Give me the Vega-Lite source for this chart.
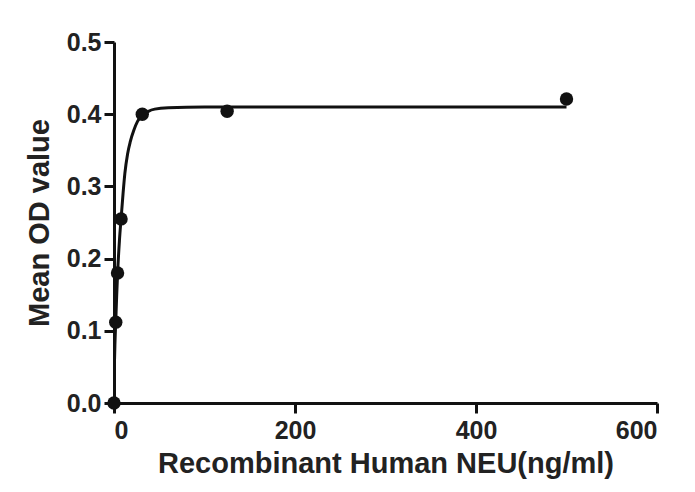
{
  "$schema": "https://vega.github.io/schema/vega-lite/v6.json",
  "autosize": {"type": "none"},
  "width": 543,
  "height": 361,
  "padding": {"left": 114, "top": 42, "right": 38, "bottom": 89},
  "background": "white",
  "config": {
    "view": {"stroke": null},
    "font": "Liberation Sans",
    "axis": {
      "grid": false,
      "domainColor": "#111",
      "domainWidth": 3,
      "tickColor": "#111",
      "tickWidth": 3,
      "tickSize": 10,
      "labelFont": "Liberation Sans",
      "labelFontSize": 25,
      "labelFontWeight": "bold",
      "labelColor": "#222",
      "titleFont": "Liberation Sans",
      "titleFontSize": 29,
      "titleFontWeight": "bold",
      "titleColor": "#222"
    }
  },
  "datasets": {
    "curve": [
      {"x": 0.6, "y": 0.06}, {"x": 1, "y": 0.08}, {"x": 2, "y": 0.115}, {"x": 3, "y": 0.15},
      {"x": 4, "y": 0.18}, {"x": 6, "y": 0.225}, {"x": 8, "y": 0.258}, {"x": 10, "y": 0.29},
      {"x": 12, "y": 0.318}, {"x": 15, "y": 0.345}, {"x": 18, "y": 0.362}, {"x": 22, "y": 0.378},
      {"x": 26, "y": 0.39}, {"x": 31, "y": 0.398}, {"x": 38, "y": 0.404}, {"x": 45, "y": 0.407},
      {"x": 60, "y": 0.409}, {"x": 100, "y": 0.41}, {"x": 300, "y": 0.41}, {"x": 500, "y": 0.41}
    ],
    "points": [
      {"x": 0, "y": 0.0}, {"x": 1.95, "y": 0.112}, {"x": 3.9, "y": 0.18}, {"x": 7.8, "y": 0.255},
      {"x": 31.25, "y": 0.4}, {"x": 125, "y": 0.404}, {"x": 500, "y": 0.421}
    ]
  },
  "layer": [
    {
      "data": {"name": "curve"},
      "mark": {"type": "line", "color": "#111", "strokeWidth": 3, "interpolate": "monotone"},
      "encoding": {
        "x": {"field": "x", "type": "quantitative", "scale": {"domain": [0, 600], "nice": false},
          "axis": {"values": [0, 200, 400, 600], "title": "Recombinant Human NEU(ng/ml)", "titlePadding": 6, "labelPadding": 5}},
        "y": {"field": "y", "type": "quantitative", "scale": {"domain": [0, 0.5], "nice": false},
          "axis": {"values": [0, 0.1, 0.2, 0.3, 0.4, 0.5], "format": ".1f", "title": "Mean OD value", "titlePadding": 12, "labelPadding": 3}}
      }
    },
    {
      "data": {"name": "points"},
      "mark": {"type": "circle", "color": "#111", "opacity": 1, "size": 180, "clip": false},
      "encoding": {
        "x": {"field": "x", "type": "quantitative"},
        "y": {"field": "y", "type": "quantitative"}
      }
    }
  ]
}
